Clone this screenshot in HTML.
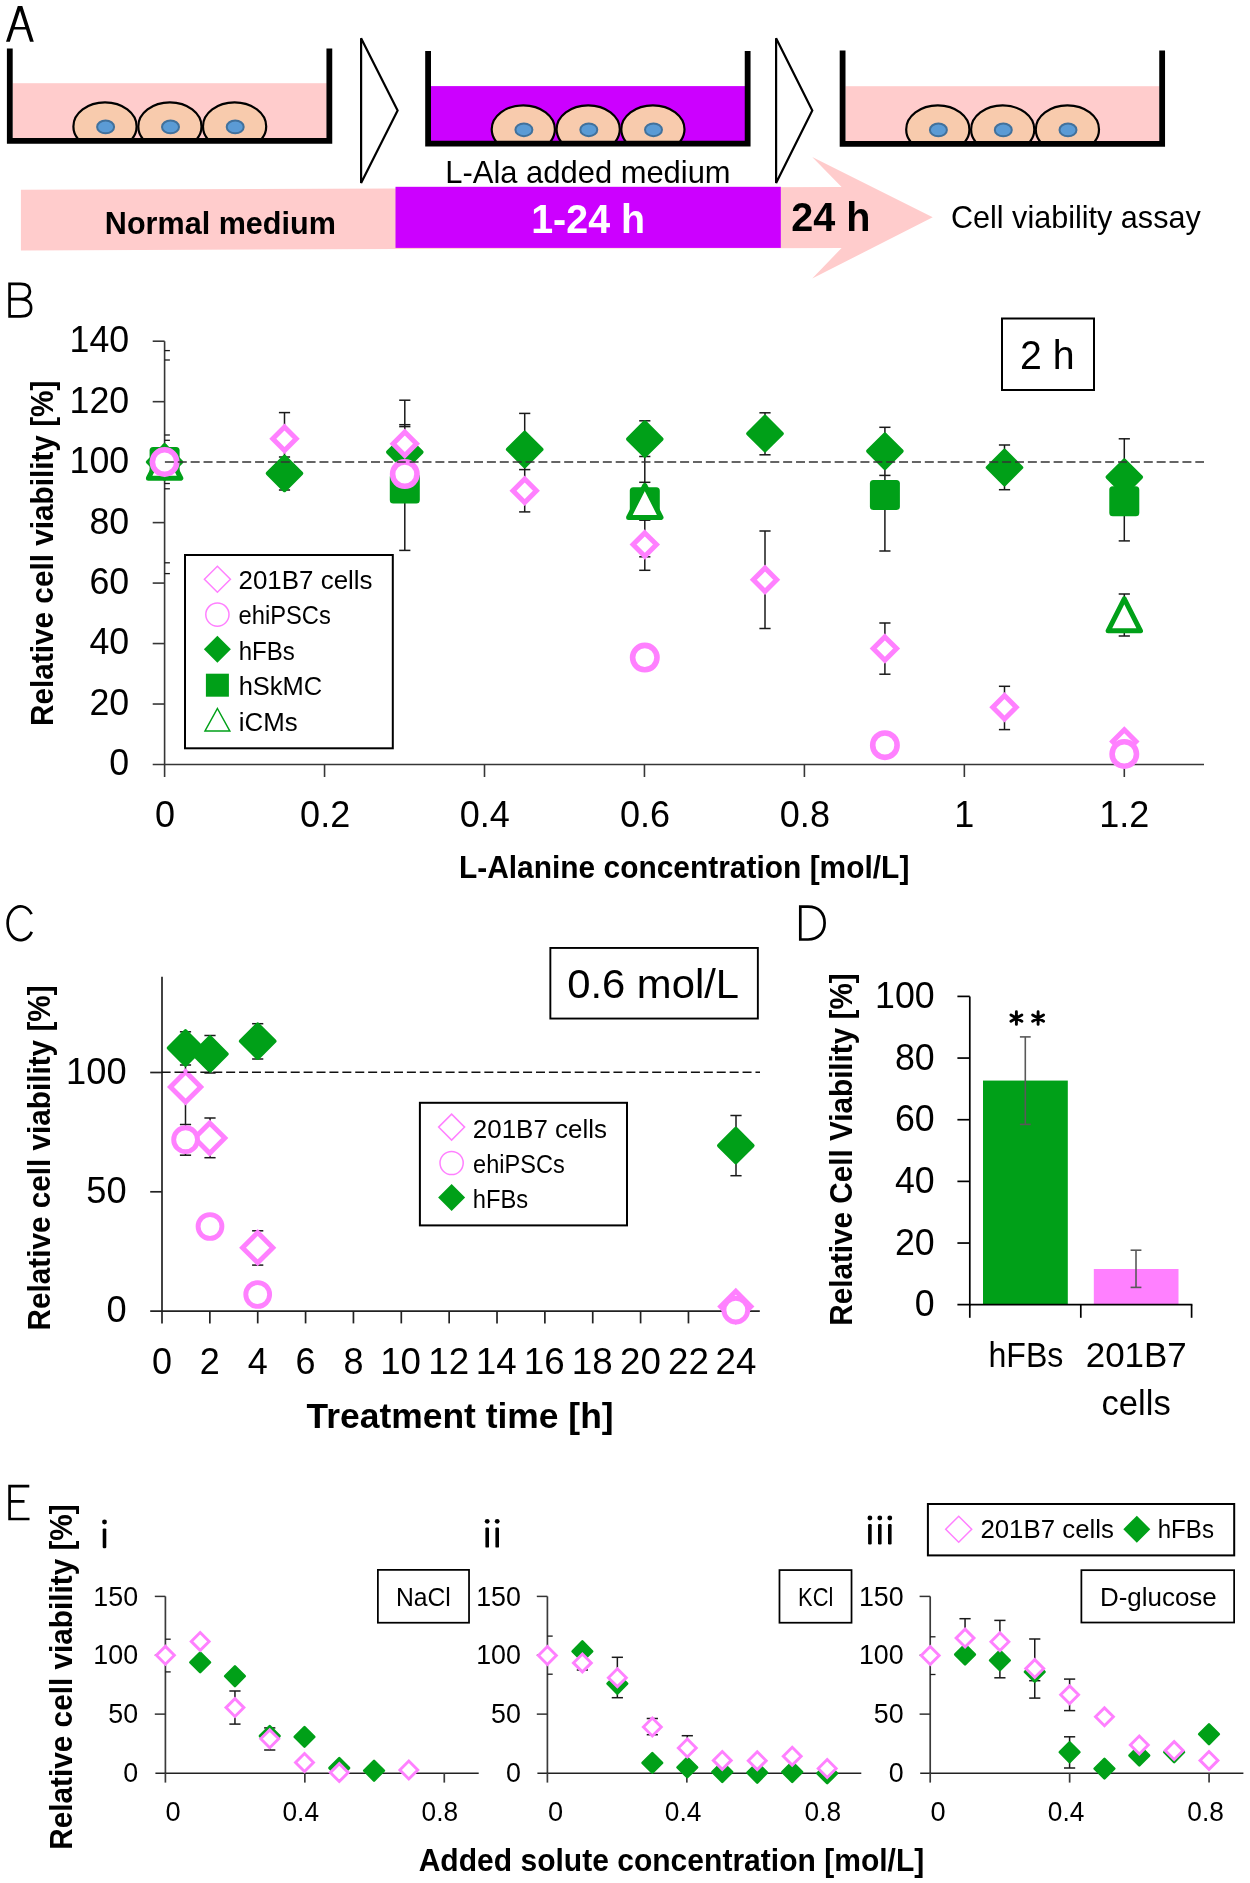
<!DOCTYPE html>
<html><head><meta charset="utf-8"><style>
html,body{margin:0;padding:0;background:#fff;width:1250px;height:1883px;overflow:hidden}
svg{display:block;will-change:transform}
text{font-family:"Liberation Sans", sans-serif}
</style></head><body>
<svg width="1250" height="1883" viewBox="0 0 1250 1883" font-family='"Liberation Sans", sans-serif'>
<rect width="1250" height="1883" fill="white"/>
<path d="M6 41.8 L17.8 6 L22.3 6 L33.8 41.8 L30 41.8 L26.05 29.5 L13.85 29.5 L9.8 41.8 Z M20.03 10.76 L25.21 26.9 L14.71 26.9 Z" fill="#000" fill-rule="evenodd"/>
<path d="M9.6 299.2 H20.3 C26.3 299.2 29.9 296 29.9 291.2 C29.9 286.6 26.8 283.8 20.5 283.8 H9.6 V316.4 H20.5 C27.2 316.4 31.1 313.5 31.1 308 C31.1 302.6 27.3 299.2 20.3 299.2" fill="none" stroke="#000" stroke-width="2.70" stroke-linejoin="miter"/>
<path d="M31.6 914.2 A13.0 16.9 0 1 0 31.8 931.9" fill="none" stroke="#000" stroke-width="2.70"/>
<path d="M800.3 906.6 H808 C819 906.6 824.6 913.5 824.6 923 C824.6 932.5 818.5 939.5 808 939.5 H800.3 Z" fill="none" stroke="#000" stroke-width="2.70"/>
<path d="M29.3 1486.2 H9.6 V1519 H29.5 M9.6 1501.4 H24.5" fill="none" stroke="#000" stroke-width="2.70"/>
<rect x="12.70" y="83.20" width="314.10" height="55.20" fill="#FFCCCC" stroke="none" stroke-width="0.00" />
<clipPath id="cp0_105"><rect x="65.00" y="90.00" width="80" height="48.10"/></clipPath>
<ellipse cx="105.00" cy="126.40" rx="31.6" ry="24.0" fill="#F8CBAD" stroke="#000" stroke-width="2.2" clip-path="url(#cp0_105)"/>
<ellipse cx="105.60" cy="126.90" rx="8.5" ry="6.4" fill="#5B9BD5" stroke="#41719C" stroke-width="2.0"/>
<clipPath id="cp0_169"><rect x="129.90" y="90.00" width="80" height="48.10"/></clipPath>
<ellipse cx="169.90" cy="126.40" rx="31.6" ry="24.0" fill="#F8CBAD" stroke="#000" stroke-width="2.2" clip-path="url(#cp0_169)"/>
<ellipse cx="170.50" cy="126.90" rx="8.5" ry="6.4" fill="#5B9BD5" stroke="#41719C" stroke-width="2.0"/>
<clipPath id="cp0_234"><rect x="194.60" y="90.00" width="80" height="48.10"/></clipPath>
<ellipse cx="234.60" cy="126.40" rx="31.6" ry="24.0" fill="#F8CBAD" stroke="#000" stroke-width="2.2" clip-path="url(#cp0_234)"/>
<ellipse cx="235.20" cy="126.90" rx="8.5" ry="6.4" fill="#5B9BD5" stroke="#41719C" stroke-width="2.0"/>
<path d="M9.80 48.40 V140.80 H329.35 V48.40" fill="none" stroke="#000" stroke-width="5.8" stroke-linejoin="miter"/>
<rect x="431.00" y="86.10" width="314.10" height="55.20" fill="#CC00FF" stroke="none" stroke-width="0.00" />
<clipPath id="cp418_105"><rect x="483.30" y="92.90" width="80" height="48.10"/></clipPath>
<ellipse cx="523.30" cy="129.30" rx="31.6" ry="24.0" fill="#F8CBAD" stroke="#000" stroke-width="2.2" clip-path="url(#cp418_105)"/>
<ellipse cx="523.90" cy="129.80" rx="8.5" ry="6.4" fill="#5B9BD5" stroke="#41719C" stroke-width="2.0"/>
<clipPath id="cp418_169"><rect x="548.20" y="92.90" width="80" height="48.10"/></clipPath>
<ellipse cx="588.20" cy="129.30" rx="31.6" ry="24.0" fill="#F8CBAD" stroke="#000" stroke-width="2.2" clip-path="url(#cp418_169)"/>
<ellipse cx="588.80" cy="129.80" rx="8.5" ry="6.4" fill="#5B9BD5" stroke="#41719C" stroke-width="2.0"/>
<clipPath id="cp418_234"><rect x="612.90" y="92.90" width="80" height="48.10"/></clipPath>
<ellipse cx="652.90" cy="129.30" rx="31.6" ry="24.0" fill="#F8CBAD" stroke="#000" stroke-width="2.2" clip-path="url(#cp418_234)"/>
<ellipse cx="653.50" cy="129.80" rx="8.5" ry="6.4" fill="#5B9BD5" stroke="#41719C" stroke-width="2.0"/>
<path d="M428.10 51.10 V143.70 H747.65 V51.10" fill="none" stroke="#000" stroke-width="5.8" stroke-linejoin="miter"/>
<rect x="845.50" y="86.20" width="314.10" height="55.20" fill="#FFCCCC" stroke="none" stroke-width="0.00" />
<clipPath id="cp832_105"><rect x="897.80" y="93.00" width="80" height="48.10"/></clipPath>
<ellipse cx="937.80" cy="129.40" rx="31.6" ry="24.0" fill="#F8CBAD" stroke="#000" stroke-width="2.2" clip-path="url(#cp832_105)"/>
<ellipse cx="938.40" cy="129.90" rx="8.5" ry="6.4" fill="#5B9BD5" stroke="#41719C" stroke-width="2.0"/>
<clipPath id="cp832_169"><rect x="962.70" y="93.00" width="80" height="48.10"/></clipPath>
<ellipse cx="1002.70" cy="129.40" rx="31.6" ry="24.0" fill="#F8CBAD" stroke="#000" stroke-width="2.2" clip-path="url(#cp832_169)"/>
<ellipse cx="1003.30" cy="129.90" rx="8.5" ry="6.4" fill="#5B9BD5" stroke="#41719C" stroke-width="2.0"/>
<clipPath id="cp832_234"><rect x="1027.40" y="93.00" width="80" height="48.10"/></clipPath>
<ellipse cx="1067.40" cy="129.40" rx="31.6" ry="24.0" fill="#F8CBAD" stroke="#000" stroke-width="2.2" clip-path="url(#cp832_234)"/>
<ellipse cx="1068.00" cy="129.90" rx="8.5" ry="6.4" fill="#5B9BD5" stroke="#41719C" stroke-width="2.0"/>
<path d="M842.60 50.40 V143.80 H1162.15 V50.40" fill="none" stroke="#000" stroke-width="5.8" stroke-linejoin="miter"/>
<path d="M361.1 38.3 L397.6 110.6 L361.1 183 Z" fill="white" stroke="#000" stroke-width="2.2" stroke-linejoin="miter"/>
<path d="M776.1 38.3 L812.3 110.6 L776.1 183 Z" fill="white" stroke="#000" stroke-width="2.2" stroke-linejoin="miter"/>
<path d="M20.9 189.7 L395.5 188.4 L841.6 187.1 L812.2 157 L932.7 217.3 L812.2 278.5 L841.6 248 L395.5 248.9 L20.9 250.4 Z" fill="#FFCCCC"/>
<rect x="395.50" y="186.80" width="385.30" height="61.10" fill="#CC00FF" stroke="none" stroke-width="0.00" />
<text x="445.36" y="183.00" font-size="31.25" textLength="285.27" lengthAdjust="spacingAndGlyphs" >L-Ala added medium</text>
<text x="104.85" y="233.50" font-size="31.40" font-weight="bold" textLength="231.04" lengthAdjust="spacingAndGlyphs" >Normal medium</text>
<text x="531.22" y="232.90" font-size="41.28" font-weight="bold" fill="white" textLength="113.82" lengthAdjust="spacingAndGlyphs" >1-24 h</text>
<text x="791.23" y="231.00" font-size="40.70" font-weight="bold" textLength="79.23" lengthAdjust="spacingAndGlyphs" >24 h</text>
<text x="950.95" y="228.40" font-size="32.27" textLength="249.81" lengthAdjust="spacingAndGlyphs" >Cell viability assay</text>
<line x1="164.60" y1="341.20" x2="164.60" y2="765.10" stroke="#363636" stroke-width="1.60" />
<line x1="152.70" y1="764.50" x2="1204.00" y2="764.50" stroke="#363636" stroke-width="1.60" />
<text x="109.32" y="775.40" font-size="36.00" textLength="19.87" lengthAdjust="spacingAndGlyphs" >0</text>
<line x1="152.70" y1="704.03" x2="164.60" y2="704.03" stroke="#363636" stroke-width="1.60" />
<text x="89.45" y="714.93" font-size="36.00" textLength="39.75" lengthAdjust="spacingAndGlyphs" >20</text>
<line x1="152.70" y1="643.56" x2="164.60" y2="643.56" stroke="#363636" stroke-width="1.60" />
<text x="89.45" y="654.46" font-size="36.00" textLength="39.75" lengthAdjust="spacingAndGlyphs" >40</text>
<line x1="152.70" y1="583.08" x2="164.60" y2="583.08" stroke="#363636" stroke-width="1.60" />
<text x="89.45" y="593.98" font-size="36.00" textLength="39.75" lengthAdjust="spacingAndGlyphs" >60</text>
<line x1="152.70" y1="522.61" x2="164.60" y2="522.61" stroke="#363636" stroke-width="1.60" />
<text x="89.45" y="533.51" font-size="36.00" textLength="39.75" lengthAdjust="spacingAndGlyphs" >80</text>
<line x1="152.70" y1="462.14" x2="164.60" y2="462.14" stroke="#363636" stroke-width="1.60" />
<text x="69.58" y="473.04" font-size="36.00" textLength="59.62" lengthAdjust="spacingAndGlyphs" >100</text>
<line x1="152.70" y1="401.67" x2="164.60" y2="401.67" stroke="#363636" stroke-width="1.60" />
<text x="69.58" y="412.57" font-size="36.00" textLength="59.62" lengthAdjust="spacingAndGlyphs" >120</text>
<line x1="152.70" y1="341.20" x2="164.60" y2="341.20" stroke="#363636" stroke-width="1.60" />
<text x="69.58" y="352.10" font-size="36.00" textLength="59.62" lengthAdjust="spacingAndGlyphs" >140</text>
<line x1="164.60" y1="764.50" x2="164.60" y2="777.00" stroke="#363636" stroke-width="1.60" />
<text x="154.99" y="827.00" font-size="36.00" textLength="20.03" lengthAdjust="spacingAndGlyphs" >0</text>
<line x1="324.55" y1="764.50" x2="324.55" y2="777.00" stroke="#363636" stroke-width="1.60" />
<text x="300.12" y="827.00" font-size="36.00" textLength="50.06" lengthAdjust="spacingAndGlyphs" >0.2</text>
<line x1="484.50" y1="764.50" x2="484.50" y2="777.00" stroke="#363636" stroke-width="1.60" />
<text x="459.69" y="827.00" font-size="36.00" textLength="50.06" lengthAdjust="spacingAndGlyphs" >0.4</text>
<line x1="644.45" y1="764.50" x2="644.45" y2="777.00" stroke="#363636" stroke-width="1.60" />
<text x="619.91" y="827.00" font-size="36.00" textLength="50.06" lengthAdjust="spacingAndGlyphs" >0.6</text>
<line x1="804.40" y1="764.50" x2="804.40" y2="777.00" stroke="#363636" stroke-width="1.60" />
<text x="779.85" y="827.00" font-size="36.00" textLength="50.06" lengthAdjust="spacingAndGlyphs" >0.8</text>
<line x1="964.35" y1="764.50" x2="964.35" y2="777.00" stroke="#363636" stroke-width="1.60" />
<text x="954.24" y="827.00" font-size="36.00" textLength="20.03" lengthAdjust="spacingAndGlyphs" >1</text>
<line x1="1124.30" y1="764.50" x2="1124.30" y2="777.00" stroke="#363636" stroke-width="1.60" />
<text x="1099.20" y="827.00" font-size="36.00" textLength="50.06" lengthAdjust="spacingAndGlyphs" >1.2</text>
<line x1="164.60" y1="350.60" x2="169.90" y2="350.60" stroke="#1a1a1a" stroke-width="1.30" />
<line x1="164.60" y1="360.00" x2="169.90" y2="360.00" stroke="#1a1a1a" stroke-width="1.30" />
<line x1="164.60" y1="435.00" x2="169.90" y2="435.00" stroke="#1a1a1a" stroke-width="1.30" />
<line x1="164.60" y1="440.30" x2="169.90" y2="440.30" stroke="#1a1a1a" stroke-width="1.30" />
<line x1="164.60" y1="483.50" x2="169.90" y2="483.50" stroke="#1a1a1a" stroke-width="1.30" />
<line x1="164.60" y1="488.80" x2="169.90" y2="488.80" stroke="#1a1a1a" stroke-width="1.30" />
<line x1="164.60" y1="562.80" x2="169.90" y2="562.80" stroke="#1a1a1a" stroke-width="1.30" />
<line x1="164.60" y1="573.60" x2="169.90" y2="573.60" stroke="#1a1a1a" stroke-width="1.30" />
<line x1="284.50" y1="412.60" x2="284.50" y2="490.00" stroke="#1a1a1a" stroke-width="1.50" />
<line x1="278.90" y1="412.60" x2="290.10" y2="412.60" stroke="#1a1a1a" stroke-width="1.50" />
<line x1="278.90" y1="457.00" x2="290.10" y2="457.00" stroke="#1a1a1a" stroke-width="1.50" />
<line x1="278.90" y1="490.00" x2="290.10" y2="490.00" stroke="#1a1a1a" stroke-width="1.50" />
<line x1="404.80" y1="400.20" x2="404.80" y2="550.40" stroke="#1a1a1a" stroke-width="1.50" />
<line x1="399.20" y1="400.20" x2="410.40" y2="400.20" stroke="#1a1a1a" stroke-width="1.50" />
<line x1="399.20" y1="424.70" x2="410.40" y2="424.70" stroke="#1a1a1a" stroke-width="1.50" />
<line x1="399.20" y1="426.60" x2="410.40" y2="426.60" stroke="#1a1a1a" stroke-width="1.50" />
<line x1="399.20" y1="550.40" x2="410.40" y2="550.40" stroke="#1a1a1a" stroke-width="1.50" />
<line x1="524.70" y1="413.40" x2="524.70" y2="511.90" stroke="#1a1a1a" stroke-width="1.50" />
<line x1="519.10" y1="413.40" x2="530.30" y2="413.40" stroke="#1a1a1a" stroke-width="1.50" />
<line x1="519.10" y1="469.60" x2="530.30" y2="469.60" stroke="#1a1a1a" stroke-width="1.50" />
<line x1="519.10" y1="511.90" x2="530.30" y2="511.90" stroke="#1a1a1a" stroke-width="1.50" />
<line x1="644.80" y1="420.80" x2="644.80" y2="570.30" stroke="#1a1a1a" stroke-width="1.50" />
<line x1="639.20" y1="420.80" x2="650.40" y2="420.80" stroke="#1a1a1a" stroke-width="1.50" />
<line x1="639.20" y1="456.50" x2="650.40" y2="456.50" stroke="#1a1a1a" stroke-width="1.50" />
<line x1="639.20" y1="482.30" x2="650.40" y2="482.30" stroke="#1a1a1a" stroke-width="1.50" />
<line x1="639.20" y1="520.20" x2="650.40" y2="520.20" stroke="#1a1a1a" stroke-width="1.50" />
<line x1="639.20" y1="556.80" x2="650.40" y2="556.80" stroke="#1a1a1a" stroke-width="1.50" />
<line x1="639.20" y1="570.30" x2="650.40" y2="570.30" stroke="#1a1a1a" stroke-width="1.50" />
<line x1="765.00" y1="412.80" x2="765.00" y2="454.80" stroke="#1a1a1a" stroke-width="1.50" />
<line x1="759.40" y1="412.80" x2="770.60" y2="412.80" stroke="#1a1a1a" stroke-width="1.50" />
<line x1="759.40" y1="454.80" x2="770.60" y2="454.80" stroke="#1a1a1a" stroke-width="1.50" />
<line x1="765.00" y1="531.00" x2="765.00" y2="628.50" stroke="#1a1a1a" stroke-width="1.50" />
<line x1="759.40" y1="531.00" x2="770.60" y2="531.00" stroke="#1a1a1a" stroke-width="1.50" />
<line x1="759.40" y1="628.50" x2="770.60" y2="628.50" stroke="#1a1a1a" stroke-width="1.50" />
<line x1="884.90" y1="427.30" x2="884.90" y2="551.00" stroke="#1a1a1a" stroke-width="1.50" />
<line x1="879.30" y1="427.30" x2="890.50" y2="427.30" stroke="#1a1a1a" stroke-width="1.50" />
<line x1="879.30" y1="475.40" x2="890.50" y2="475.40" stroke="#1a1a1a" stroke-width="1.50" />
<line x1="879.30" y1="551.00" x2="890.50" y2="551.00" stroke="#1a1a1a" stroke-width="1.50" />
<line x1="884.90" y1="623.00" x2="884.90" y2="674.20" stroke="#1a1a1a" stroke-width="1.50" />
<line x1="879.30" y1="623.00" x2="890.50" y2="623.00" stroke="#1a1a1a" stroke-width="1.50" />
<line x1="879.30" y1="674.20" x2="890.50" y2="674.20" stroke="#1a1a1a" stroke-width="1.50" />
<line x1="1004.50" y1="445.00" x2="1004.50" y2="489.70" stroke="#1a1a1a" stroke-width="1.50" />
<line x1="998.90" y1="445.00" x2="1010.10" y2="445.00" stroke="#1a1a1a" stroke-width="1.50" />
<line x1="998.90" y1="489.70" x2="1010.10" y2="489.70" stroke="#1a1a1a" stroke-width="1.50" />
<line x1="1004.50" y1="686.30" x2="1004.50" y2="729.60" stroke="#1a1a1a" stroke-width="1.50" />
<line x1="998.90" y1="686.30" x2="1010.10" y2="686.30" stroke="#1a1a1a" stroke-width="1.50" />
<line x1="998.90" y1="729.60" x2="1010.10" y2="729.60" stroke="#1a1a1a" stroke-width="1.50" />
<line x1="1124.30" y1="438.80" x2="1124.30" y2="540.90" stroke="#1a1a1a" stroke-width="1.50" />
<line x1="1118.70" y1="438.80" x2="1129.90" y2="438.80" stroke="#1a1a1a" stroke-width="1.50" />
<line x1="1118.70" y1="540.90" x2="1129.90" y2="540.90" stroke="#1a1a1a" stroke-width="1.50" />
<line x1="1124.30" y1="594.00" x2="1124.30" y2="636.00" stroke="#1a1a1a" stroke-width="1.50" />
<line x1="1118.70" y1="594.00" x2="1129.90" y2="594.00" stroke="#1a1a1a" stroke-width="1.50" />
<line x1="1118.70" y1="636.00" x2="1129.90" y2="636.00" stroke="#1a1a1a" stroke-width="1.50" />
<path d="M164.60 445.10L181.50 462.00L164.60 478.90L147.70 462.00Z" fill="#00A018" stroke="#00A018" stroke-width="3.80" stroke-linejoin="round"/>
<path d="M284.50 456.50L301.40 473.40L284.50 490.30L267.60 473.40Z" fill="#00A018" stroke="#00A018" stroke-width="3.80" stroke-linejoin="round"/>
<path d="M404.80 435.30L421.70 452.20L404.80 469.10L387.90 452.20Z" fill="#00A018" stroke="#00A018" stroke-width="3.80" stroke-linejoin="round"/>
<path d="M524.70 432.50L541.60 449.40L524.70 466.30L507.80 449.40Z" fill="#00A018" stroke="#00A018" stroke-width="3.80" stroke-linejoin="round"/>
<path d="M644.80 422.20L661.70 439.10L644.80 456.00L627.90 439.10Z" fill="#00A018" stroke="#00A018" stroke-width="3.80" stroke-linejoin="round"/>
<path d="M765.00 416.70L781.90 433.60L765.00 450.50L748.10 433.60Z" fill="#00A018" stroke="#00A018" stroke-width="3.80" stroke-linejoin="round"/>
<path d="M884.90 434.30L901.80 451.20L884.90 468.10L868.00 451.20Z" fill="#00A018" stroke="#00A018" stroke-width="3.80" stroke-linejoin="round"/>
<path d="M1004.50 450.60L1021.40 467.50L1004.50 484.40L987.60 467.50Z" fill="#00A018" stroke="#00A018" stroke-width="3.80" stroke-linejoin="round"/>
<path d="M1124.30 460.30L1141.20 477.20L1124.30 494.10L1107.40 477.20Z" fill="#00A018" stroke="#00A018" stroke-width="3.80" stroke-linejoin="round"/>
<rect x="149.60" y="447.00" width="30.00" height="30.00" rx="3.5" fill="#00A018"/>
<rect x="389.80" y="473.60" width="30.00" height="30.00" rx="3.5" fill="#00A018"/>
<rect x="629.80" y="487.30" width="30.00" height="30.00" rx="3.5" fill="#00A018"/>
<rect x="869.90" y="479.90" width="30.00" height="30.00" rx="3.5" fill="#00A018"/>
<rect x="1109.30" y="486.20" width="30.00" height="30.00" rx="3.5" fill="#00A018"/>
<path d="M164.60 446.20L180.80 478.20L148.40 478.20Z" fill="white" stroke="#00A018" stroke-width="5.00" stroke-linejoin="round"/>
<path d="M644.80 485.50L661.00 517.50L628.60 517.50Z" fill="white" stroke="#00A018" stroke-width="5.00" stroke-linejoin="round"/>
<path d="M1124.30 598.80L1140.50 630.80L1108.10 630.80Z" fill="white" stroke="#00A018" stroke-width="5.00" stroke-linejoin="round"/>
<path d="M164.60 450.30L176.30 462.00L164.60 473.70L152.90 462.00Z" fill="white" stroke="#FF80FF" stroke-width="5.00" stroke-linejoin="miter"/>
<path d="M284.50 427.10L296.20 438.80L284.50 450.50L272.80 438.80Z" fill="white" stroke="#FF80FF" stroke-width="5.00" stroke-linejoin="miter"/>
<path d="M404.80 432.10L416.50 443.80L404.80 455.50L393.10 443.80Z" fill="white" stroke="#FF80FF" stroke-width="5.00" stroke-linejoin="miter"/>
<path d="M524.70 479.00L536.40 490.70L524.70 502.40L513.00 490.70Z" fill="white" stroke="#FF80FF" stroke-width="5.00" stroke-linejoin="miter"/>
<path d="M644.80 532.90L656.50 544.60L644.80 556.30L633.10 544.60Z" fill="white" stroke="#FF80FF" stroke-width="5.00" stroke-linejoin="miter"/>
<path d="M765.00 568.10L776.70 579.80L765.00 591.50L753.30 579.80Z" fill="white" stroke="#FF80FF" stroke-width="5.00" stroke-linejoin="miter"/>
<path d="M884.90 636.90L896.60 648.60L884.90 660.30L873.20 648.60Z" fill="white" stroke="#FF80FF" stroke-width="5.00" stroke-linejoin="miter"/>
<path d="M1004.50 695.50L1016.20 707.20L1004.50 718.90L992.80 707.20Z" fill="white" stroke="#FF80FF" stroke-width="5.00" stroke-linejoin="miter"/>
<path d="M1124.30 729.80L1136.00 741.50L1124.30 753.20L1112.60 741.50Z" fill="white" stroke="#FF80FF" stroke-width="5.00" stroke-linejoin="miter"/>
<circle cx="164.60" cy="462.00" r="12.20" fill="white" stroke="#FF80FF" stroke-width="5.60"/>
<circle cx="404.80" cy="474.10" r="12.20" fill="white" stroke="#FF80FF" stroke-width="5.60"/>
<circle cx="644.80" cy="657.60" r="12.20" fill="white" stroke="#FF80FF" stroke-width="5.60"/>
<circle cx="884.90" cy="745.20" r="12.20" fill="white" stroke="#FF80FF" stroke-width="5.60"/>
<circle cx="1124.30" cy="754.00" r="12.20" fill="white" stroke="#FF80FF" stroke-width="5.60"/>
<line x1="164.9" y1="462" x2="1204" y2="462" stroke="#333" stroke-width="1.5" stroke-dasharray="9.0 3.88"/>
<rect x="185.00" y="555.00" width="207.80" height="193.30" fill="white" stroke="#000" stroke-width="2.00" />
<path d="M217.4 566.3L230.4 579.3L217.4 592.3L204.4 579.3Z" fill="white" stroke="#FF80FF" stroke-width="1.5"/>
<circle cx="217.4" cy="614.6" r="11.6" fill="white" stroke="#FF80FF" stroke-width="1.5"/>
<path d="M217.4 635.7L230.9 649.2L217.4 662.7L203.9 649.2Z" fill="#00A018"/>
<rect x="205.90" y="673.70" width="23.00" height="23.00" fill="#00A018" stroke="none" stroke-width="0.00" />
<path d="M217.4 708.5L229.8 731.0L205.0 731.0Z" fill="white" stroke="#00A018" stroke-width="1.5"/>
<text x="238.50" y="589.30" font-size="26.02" textLength="134.04" lengthAdjust="spacingAndGlyphs" >201B7 cells</text>
<text x="238.59" y="624.40" font-size="26.02" textLength="92.26" lengthAdjust="spacingAndGlyphs" >ehiPSCs</text>
<text x="238.73" y="660.20" font-size="26.02" textLength="56.14" lengthAdjust="spacingAndGlyphs" >hFBs</text>
<text x="238.63" y="695.20" font-size="26.02" textLength="83.54" lengthAdjust="spacingAndGlyphs" >hSkMC</text>
<text x="238.87" y="731.00" font-size="26.02" textLength="58.86" lengthAdjust="spacingAndGlyphs" >iCMs</text>
<rect x="1002.00" y="318.50" width="92.00" height="71.50" fill="white" stroke="#000" stroke-width="2.00" />
<text x="1020.02" y="368.70" font-size="40.41" textLength="54.63" lengthAdjust="spacingAndGlyphs" >2 h</text>
<text x="458.90" y="877.70" font-size="31.25" font-weight="bold" textLength="450.48" lengthAdjust="spacingAndGlyphs" >L-Alanine concentration [mol/L]</text>
<text transform="translate(52.90,725.89) rotate(-90)" font-size="31.20" font-weight="bold" textLength="345.26" lengthAdjust="spacingAndGlyphs" >Relative cell viability [%]</text>
<line x1="162.00" y1="976.70" x2="162.00" y2="1311.90" stroke="#222" stroke-width="1.70" />
<line x1="150.20" y1="1311.10" x2="759.80" y2="1311.10" stroke="#222" stroke-width="1.70" />
<text x="106.46" y="1322.10" font-size="36.00" textLength="20.16" lengthAdjust="spacingAndGlyphs" >0</text>
<line x1="150.20" y1="1191.80" x2="162.00" y2="1191.80" stroke="#222" stroke-width="1.70" />
<text x="86.30" y="1202.80" font-size="36.00" textLength="40.32" lengthAdjust="spacingAndGlyphs" >50</text>
<line x1="150.20" y1="1072.50" x2="162.00" y2="1072.50" stroke="#222" stroke-width="1.70" />
<text x="66.14" y="1083.50" font-size="36.00" textLength="60.48" lengthAdjust="spacingAndGlyphs" >100</text>
<line x1="162.00" y1="1311.10" x2="162.00" y2="1323.40" stroke="#222" stroke-width="1.70" />
<text x="151.99" y="1373.60" font-size="36.00" textLength="20.02" lengthAdjust="spacingAndGlyphs" >0</text>
<line x1="209.86" y1="1311.10" x2="209.86" y2="1323.40" stroke="#222" stroke-width="1.70" />
<text x="199.85" y="1373.60" font-size="36.00" textLength="20.02" lengthAdjust="spacingAndGlyphs" >2</text>
<line x1="257.72" y1="1311.10" x2="257.72" y2="1323.40" stroke="#222" stroke-width="1.70" />
<text x="247.82" y="1373.60" font-size="36.00" textLength="20.02" lengthAdjust="spacingAndGlyphs" >4</text>
<line x1="305.58" y1="1311.10" x2="305.58" y2="1323.40" stroke="#222" stroke-width="1.70" />
<text x="295.45" y="1373.60" font-size="36.00" textLength="20.02" lengthAdjust="spacingAndGlyphs" >6</text>
<line x1="353.44" y1="1311.10" x2="353.44" y2="1323.40" stroke="#222" stroke-width="1.70" />
<text x="343.43" y="1373.60" font-size="36.00" textLength="20.02" lengthAdjust="spacingAndGlyphs" >8</text>
<line x1="401.30" y1="1311.10" x2="401.30" y2="1323.40" stroke="#222" stroke-width="1.70" />
<text x="380.20" y="1373.60" font-size="36.00" textLength="40.84" lengthAdjust="spacingAndGlyphs" >10</text>
<line x1="449.16" y1="1311.10" x2="449.16" y2="1323.40" stroke="#222" stroke-width="1.70" />
<text x="428.26" y="1373.60" font-size="36.00" textLength="40.84" lengthAdjust="spacingAndGlyphs" >12</text>
<line x1="497.02" y1="1311.10" x2="497.02" y2="1323.40" stroke="#222" stroke-width="1.70" />
<text x="475.74" y="1373.60" font-size="36.00" textLength="40.84" lengthAdjust="spacingAndGlyphs" >14</text>
<line x1="544.88" y1="1311.10" x2="544.88" y2="1323.40" stroke="#222" stroke-width="1.70" />
<text x="523.87" y="1373.60" font-size="36.00" textLength="40.84" lengthAdjust="spacingAndGlyphs" >16</text>
<line x1="592.74" y1="1311.10" x2="592.74" y2="1323.40" stroke="#222" stroke-width="1.70" />
<text x="571.72" y="1373.60" font-size="36.00" textLength="40.84" lengthAdjust="spacingAndGlyphs" >18</text>
<line x1="640.60" y1="1311.10" x2="640.60" y2="1323.40" stroke="#222" stroke-width="1.70" />
<text x="619.97" y="1373.60" font-size="36.00" textLength="40.84" lengthAdjust="spacingAndGlyphs" >20</text>
<line x1="688.46" y1="1311.10" x2="688.46" y2="1323.40" stroke="#222" stroke-width="1.70" />
<text x="668.04" y="1373.60" font-size="36.00" textLength="40.84" lengthAdjust="spacingAndGlyphs" >22</text>
<line x1="736.32" y1="1311.10" x2="736.32" y2="1323.40" stroke="#222" stroke-width="1.70" />
<text x="715.51" y="1373.60" font-size="36.00" textLength="40.84" lengthAdjust="spacingAndGlyphs" >24</text>
<line x1="185.50" y1="1031.80" x2="185.50" y2="1155.20" stroke="#1a1a1a" stroke-width="1.50" />
<line x1="179.90" y1="1031.80" x2="191.10" y2="1031.80" stroke="#1a1a1a" stroke-width="1.50" />
<line x1="179.90" y1="1065.00" x2="191.10" y2="1065.00" stroke="#1a1a1a" stroke-width="1.50" />
<line x1="179.90" y1="1124.50" x2="191.10" y2="1124.50" stroke="#1a1a1a" stroke-width="1.50" />
<line x1="179.90" y1="1155.20" x2="191.10" y2="1155.20" stroke="#1a1a1a" stroke-width="1.50" />
<line x1="210.00" y1="1035.50" x2="210.00" y2="1073.00" stroke="#1a1a1a" stroke-width="1.50" />
<line x1="204.40" y1="1035.50" x2="215.60" y2="1035.50" stroke="#1a1a1a" stroke-width="1.50" />
<line x1="204.40" y1="1073.00" x2="215.60" y2="1073.00" stroke="#1a1a1a" stroke-width="1.50" />
<line x1="210.00" y1="1118.00" x2="210.00" y2="1157.70" stroke="#1a1a1a" stroke-width="1.50" />
<line x1="204.40" y1="1118.00" x2="215.60" y2="1118.00" stroke="#1a1a1a" stroke-width="1.50" />
<line x1="204.40" y1="1157.70" x2="215.60" y2="1157.70" stroke="#1a1a1a" stroke-width="1.50" />
<line x1="257.70" y1="1023.70" x2="257.70" y2="1059.00" stroke="#1a1a1a" stroke-width="1.50" />
<line x1="252.10" y1="1023.70" x2="263.30" y2="1023.70" stroke="#1a1a1a" stroke-width="1.50" />
<line x1="252.10" y1="1059.00" x2="263.30" y2="1059.00" stroke="#1a1a1a" stroke-width="1.50" />
<line x1="257.70" y1="1230.80" x2="257.70" y2="1265.10" stroke="#1a1a1a" stroke-width="1.50" />
<line x1="252.10" y1="1230.80" x2="263.30" y2="1230.80" stroke="#1a1a1a" stroke-width="1.50" />
<line x1="252.10" y1="1265.10" x2="263.30" y2="1265.10" stroke="#1a1a1a" stroke-width="1.50" />
<line x1="736.00" y1="1115.50" x2="736.00" y2="1175.70" stroke="#1a1a1a" stroke-width="1.50" />
<line x1="730.40" y1="1115.50" x2="741.60" y2="1115.50" stroke="#1a1a1a" stroke-width="1.50" />
<line x1="730.40" y1="1175.70" x2="741.60" y2="1175.70" stroke="#1a1a1a" stroke-width="1.50" />
<path d="M185.50 1031.10L202.40 1048.00L185.50 1064.90L168.60 1048.00Z" fill="#00A018" stroke="#00A018" stroke-width="3.80" stroke-linejoin="round"/>
<path d="M210.00 1037.10L226.90 1054.00L210.00 1070.90L193.10 1054.00Z" fill="#00A018" stroke="#00A018" stroke-width="3.80" stroke-linejoin="round"/>
<path d="M257.70 1024.30L274.60 1041.20L257.70 1058.10L240.80 1041.20Z" fill="#00A018" stroke="#00A018" stroke-width="3.80" stroke-linejoin="round"/>
<path d="M735.80 1128.70L752.70 1145.60L735.80 1162.50L718.90 1145.60Z" fill="#00A018" stroke="#00A018" stroke-width="3.80" stroke-linejoin="round"/>
<path d="M185.60 1071.75L200.75 1086.90L185.60 1102.05L170.45 1086.90Z" fill="white" stroke="#FF80FF" stroke-width="4.90" stroke-linejoin="miter"/>
<path d="M209.70 1122.95L224.85 1138.10L209.70 1153.25L194.55 1138.10Z" fill="white" stroke="#FF80FF" stroke-width="4.90" stroke-linejoin="miter"/>
<path d="M257.70 1232.55L272.85 1247.70L257.70 1262.85L242.55 1247.70Z" fill="white" stroke="#FF80FF" stroke-width="4.90" stroke-linejoin="miter"/>
<path d="M735.80 1291.25L750.95 1306.40L735.80 1321.55L720.65 1306.40Z" fill="white" stroke="#FF80FF" stroke-width="4.90" stroke-linejoin="miter"/>
<circle cx="185.60" cy="1139.70" r="11.90" fill="white" stroke="#FF80FF" stroke-width="4.90"/>
<circle cx="210.00" cy="1226.50" r="11.90" fill="white" stroke="#FF80FF" stroke-width="4.90"/>
<circle cx="257.70" cy="1294.50" r="11.90" fill="white" stroke="#FF80FF" stroke-width="4.90"/>
<circle cx="735.80" cy="1310.10" r="11.90" fill="white" stroke="#FF80FF" stroke-width="4.90"/>
<line x1="161.6" y1="1072.2" x2="760" y2="1072.2" stroke="#111" stroke-width="1.5" stroke-dasharray="9.0 3.91"/>
<rect x="550.35" y="947.95" width="207.50" height="70.60" fill="white" stroke="#000" stroke-width="1.90" />
<text x="567.17" y="997.50" font-size="40.41" textLength="171.92" lengthAdjust="spacingAndGlyphs" >0.6 mol/L</text>
<rect x="419.90" y="1102.80" width="207.10" height="122.60" fill="white" stroke="#000" stroke-width="2.00" />
<path d="M451.6 1114.1L464.6 1127.1L451.6 1140.1L438.6 1127.1Z" fill="white" stroke="#FF80FF" stroke-width="1.5"/>
<circle cx="451.6" cy="1163" r="11.6" fill="white" stroke="#FF80FF" stroke-width="1.5"/>
<path d="M451.6 1184.0L465.1 1197.5L451.6 1211.0L438.1 1197.5Z" fill="#00A018"/>
<text x="472.80" y="1138.00" font-size="26.31" textLength="134.14" lengthAdjust="spacingAndGlyphs" >201B7 cells</text>
<text x="473.10" y="1172.80" font-size="26.31" textLength="91.55" lengthAdjust="spacingAndGlyphs" >ehiPSCs</text>
<text x="472.75" y="1208.40" font-size="26.31" textLength="55.40" lengthAdjust="spacingAndGlyphs" >hFBs</text>
<text x="306.60" y="1428.30" font-size="35.47" font-weight="bold" textLength="306.97" lengthAdjust="spacingAndGlyphs" >Treatment time [h]</text>
<text transform="translate(50.00,1330.39) rotate(-90)" font-size="31.20" font-weight="bold" textLength="344.95" lengthAdjust="spacingAndGlyphs" >Relative cell viability [%]</text>
<rect x="983.00" y="1080.57" width="84.80" height="224.13" fill="#00A018" stroke="none" stroke-width="0.00" />
<rect x="1093.80" y="1269.00" width="84.70" height="35.70" fill="#FF80FF" stroke="none" stroke-width="0.00" />
<line x1="969.80" y1="996.40" x2="969.80" y2="1305.50" stroke="#000" stroke-width="1.70" />
<line x1="957.40" y1="1304.70" x2="1192.40" y2="1304.70" stroke="#000" stroke-width="1.70" />
<text x="914.82" y="1316.20" font-size="36.00" textLength="19.87" lengthAdjust="spacingAndGlyphs" >0</text>
<line x1="957.40" y1="1243.04" x2="969.80" y2="1243.04" stroke="#000" stroke-width="1.70" />
<text x="894.95" y="1254.54" font-size="36.00" textLength="39.75" lengthAdjust="spacingAndGlyphs" >20</text>
<line x1="957.40" y1="1181.38" x2="969.80" y2="1181.38" stroke="#000" stroke-width="1.70" />
<text x="894.95" y="1192.88" font-size="36.00" textLength="39.75" lengthAdjust="spacingAndGlyphs" >40</text>
<line x1="957.40" y1="1119.72" x2="969.80" y2="1119.72" stroke="#000" stroke-width="1.70" />
<text x="894.95" y="1131.22" font-size="36.00" textLength="39.75" lengthAdjust="spacingAndGlyphs" >60</text>
<line x1="957.40" y1="1058.06" x2="969.80" y2="1058.06" stroke="#000" stroke-width="1.70" />
<text x="894.95" y="1069.56" font-size="36.00" textLength="39.75" lengthAdjust="spacingAndGlyphs" >80</text>
<line x1="957.40" y1="996.40" x2="969.80" y2="996.40" stroke="#000" stroke-width="1.70" />
<text x="875.08" y="1007.90" font-size="36.00" textLength="59.62" lengthAdjust="spacingAndGlyphs" >100</text>
<line x1="969.80" y1="1304.70" x2="969.80" y2="1317.80" stroke="#000" stroke-width="1.70" />
<line x1="1080.80" y1="1304.70" x2="1080.80" y2="1317.80" stroke="#000" stroke-width="1.70" />
<line x1="1191.60" y1="1304.70" x2="1191.60" y2="1317.80" stroke="#000" stroke-width="1.70" />
<line x1="1025.30" y1="1036.90" x2="1025.30" y2="1124.40" stroke="#595959" stroke-width="1.60" />
<line x1="1019.90" y1="1036.90" x2="1030.70" y2="1036.90" stroke="#595959" stroke-width="1.60" />
<line x1="1019.90" y1="1124.40" x2="1030.70" y2="1124.40" stroke="#595959" stroke-width="1.60" />
<line x1="1136.00" y1="1250.20" x2="1136.00" y2="1287.40" stroke="#595959" stroke-width="1.60" />
<line x1="1130.60" y1="1250.20" x2="1141.40" y2="1250.20" stroke="#595959" stroke-width="1.60" />
<line x1="1130.60" y1="1287.40" x2="1141.40" y2="1287.40" stroke="#595959" stroke-width="1.60" />
<path d="M1016.40 1011.80L1016.40 1024.40M1010.94 1014.95L1021.86 1021.25M1010.94 1021.25L1021.86 1014.95" stroke="#000" stroke-width="2.9" stroke-linecap="round"/>
<path d="M1038.10 1011.80L1038.10 1024.40M1032.64 1014.95L1043.56 1021.25M1032.64 1021.25L1043.56 1014.95" stroke="#000" stroke-width="2.9" stroke-linecap="round"/>
<text x="988.48" y="1367.00" font-size="35.76" textLength="74.88" lengthAdjust="spacingAndGlyphs" >hFBs</text>
<text x="1085.74" y="1367.00" font-size="35.76" textLength="101.01" lengthAdjust="spacingAndGlyphs" >201B7</text>
<text x="1101.53" y="1414.60" font-size="35.76" textLength="69.22" lengthAdjust="spacingAndGlyphs" >cells</text>
<text transform="translate(851.90,1325.78) rotate(-90)" font-size="31.20" font-weight="bold" textLength="352.45" lengthAdjust="spacingAndGlyphs" >Relative Cell Viability [%]</text>
<line x1="165.40" y1="1596.40" x2="165.40" y2="1773.60" stroke="#3a3a3a" stroke-width="1.70" />
<line x1="155.40" y1="1773.30" x2="478.70" y2="1773.30" stroke="#222" stroke-width="1.50" />
<text x="123.15" y="1782.20" font-size="27.20" textLength="14.90" lengthAdjust="spacingAndGlyphs" >0</text>
<line x1="154.80" y1="1714.13" x2="165.40" y2="1714.13" stroke="#333" stroke-width="1.50" />
<text x="108.26" y="1723.34" font-size="27.20" textLength="29.79" lengthAdjust="spacingAndGlyphs" >50</text>
<line x1="154.80" y1="1655.27" x2="165.40" y2="1655.27" stroke="#333" stroke-width="1.50" />
<text x="93.36" y="1664.47" font-size="27.20" textLength="44.69" lengthAdjust="spacingAndGlyphs" >100</text>
<line x1="154.80" y1="1596.40" x2="165.40" y2="1596.40" stroke="#333" stroke-width="1.50" />
<text x="93.36" y="1605.61" font-size="27.20" textLength="44.69" lengthAdjust="spacingAndGlyphs" >150</text>
<line x1="165.40" y1="1773.00" x2="165.40" y2="1782.60" stroke="#3a3a3a" stroke-width="1.70" />
<line x1="304.84" y1="1773.00" x2="304.84" y2="1782.60" stroke="#3a3a3a" stroke-width="1.70" />
<line x1="444.28" y1="1773.00" x2="444.28" y2="1782.60" stroke="#3a3a3a" stroke-width="1.70" />
<line x1="547.40" y1="1596.40" x2="547.40" y2="1773.60" stroke="#3a3a3a" stroke-width="1.70" />
<line x1="537.40" y1="1773.30" x2="861.30" y2="1773.30" stroke="#222" stroke-width="1.50" />
<text x="505.95" y="1782.20" font-size="27.20" textLength="14.90" lengthAdjust="spacingAndGlyphs" >0</text>
<line x1="536.80" y1="1714.13" x2="547.40" y2="1714.13" stroke="#333" stroke-width="1.50" />
<text x="491.06" y="1723.34" font-size="27.20" textLength="29.79" lengthAdjust="spacingAndGlyphs" >50</text>
<line x1="536.80" y1="1655.27" x2="547.40" y2="1655.27" stroke="#333" stroke-width="1.50" />
<text x="476.16" y="1664.47" font-size="27.20" textLength="44.69" lengthAdjust="spacingAndGlyphs" >100</text>
<line x1="536.80" y1="1596.40" x2="547.40" y2="1596.40" stroke="#333" stroke-width="1.50" />
<text x="476.16" y="1605.61" font-size="27.20" textLength="44.69" lengthAdjust="spacingAndGlyphs" >150</text>
<line x1="547.40" y1="1773.00" x2="547.40" y2="1782.60" stroke="#3a3a3a" stroke-width="1.70" />
<line x1="686.84" y1="1773.00" x2="686.84" y2="1782.60" stroke="#3a3a3a" stroke-width="1.70" />
<line x1="826.28" y1="1773.00" x2="826.28" y2="1782.60" stroke="#3a3a3a" stroke-width="1.70" />
<line x1="930.20" y1="1596.40" x2="930.20" y2="1773.60" stroke="#3a3a3a" stroke-width="1.70" />
<line x1="920.20" y1="1773.30" x2="1243.40" y2="1773.30" stroke="#222" stroke-width="1.50" />
<text x="888.75" y="1782.20" font-size="27.20" textLength="14.90" lengthAdjust="spacingAndGlyphs" >0</text>
<line x1="919.60" y1="1714.13" x2="930.20" y2="1714.13" stroke="#333" stroke-width="1.50" />
<text x="873.86" y="1723.34" font-size="27.20" textLength="29.79" lengthAdjust="spacingAndGlyphs" >50</text>
<line x1="919.60" y1="1655.27" x2="930.20" y2="1655.27" stroke="#333" stroke-width="1.50" />
<text x="858.96" y="1664.47" font-size="27.20" textLength="44.69" lengthAdjust="spacingAndGlyphs" >100</text>
<line x1="919.60" y1="1596.40" x2="930.20" y2="1596.40" stroke="#333" stroke-width="1.50" />
<text x="858.96" y="1605.61" font-size="27.20" textLength="44.69" lengthAdjust="spacingAndGlyphs" >150</text>
<line x1="930.20" y1="1773.00" x2="930.20" y2="1782.60" stroke="#3a3a3a" stroke-width="1.70" />
<line x1="1069.64" y1="1773.00" x2="1069.64" y2="1782.60" stroke="#3a3a3a" stroke-width="1.70" />
<line x1="1209.08" y1="1773.00" x2="1209.08" y2="1782.60" stroke="#3a3a3a" stroke-width="1.70" />
<text x="165.44" y="1820.60" font-size="27.20" textLength="15.13" lengthAdjust="spacingAndGlyphs" >0</text>
<text x="282.52" y="1820.60" font-size="27.20" textLength="36.49" lengthAdjust="spacingAndGlyphs" >0.4</text>
<text x="421.61" y="1820.60" font-size="27.20" textLength="36.49" lengthAdjust="spacingAndGlyphs" >0.8</text>
<text x="547.94" y="1820.60" font-size="27.20" textLength="15.13" lengthAdjust="spacingAndGlyphs" >0</text>
<text x="664.82" y="1820.60" font-size="27.20" textLength="36.49" lengthAdjust="spacingAndGlyphs" >0.4</text>
<text x="804.61" y="1820.60" font-size="27.20" textLength="36.49" lengthAdjust="spacingAndGlyphs" >0.8</text>
<text x="930.44" y="1820.60" font-size="27.20" textLength="15.13" lengthAdjust="spacingAndGlyphs" >0</text>
<text x="1047.82" y="1820.60" font-size="27.20" textLength="36.49" lengthAdjust="spacingAndGlyphs" >0.4</text>
<text x="1187.31" y="1820.60" font-size="27.20" textLength="36.49" lengthAdjust="spacingAndGlyphs" >0.8</text>
<line x1="165.40" y1="1639.20" x2="170.70" y2="1639.20" stroke="#1a1a1a" stroke-width="1.30" />
<line x1="165.40" y1="1671.90" x2="170.70" y2="1671.90" stroke="#1a1a1a" stroke-width="1.30" />
<line x1="234.95" y1="1691.00" x2="234.95" y2="1724.10" stroke="#1a1a1a" stroke-width="1.50" />
<line x1="229.35" y1="1691.00" x2="240.55" y2="1691.00" stroke="#1a1a1a" stroke-width="1.50" />
<line x1="229.35" y1="1724.10" x2="240.55" y2="1724.10" stroke="#1a1a1a" stroke-width="1.50" />
<line x1="269.73" y1="1727.90" x2="269.73" y2="1750.00" stroke="#1a1a1a" stroke-width="1.50" />
<line x1="264.12" y1="1727.90" x2="275.33" y2="1727.90" stroke="#1a1a1a" stroke-width="1.50" />
<line x1="264.12" y1="1750.00" x2="275.33" y2="1750.00" stroke="#1a1a1a" stroke-width="1.50" />
<path d="M200.18 1652.60L209.98 1662.40L200.18 1672.20L190.38 1662.40Z" fill="#00A018" stroke="#00A018" stroke-width="2.60" stroke-linejoin="round"/>
<path d="M234.95 1666.40L244.75 1676.20L234.95 1686.00L225.15 1676.20Z" fill="#00A018" stroke="#00A018" stroke-width="2.60" stroke-linejoin="round"/>
<path d="M269.73 1726.20L279.53 1736.00L269.73 1745.80L259.93 1736.00Z" fill="#00A018" stroke="#00A018" stroke-width="2.60" stroke-linejoin="round"/>
<path d="M304.50 1727.10L314.30 1736.90L304.50 1746.70L294.70 1736.90Z" fill="#00A018" stroke="#00A018" stroke-width="2.60" stroke-linejoin="round"/>
<path d="M339.27 1758.20L349.07 1768.00L339.27 1777.80L329.47 1768.00Z" fill="#00A018" stroke="#00A018" stroke-width="2.60" stroke-linejoin="round"/>
<path d="M374.05 1760.90L383.85 1770.70L374.05 1780.50L364.25 1770.70Z" fill="#00A018" stroke="#00A018" stroke-width="2.60" stroke-linejoin="round"/>
<path d="M165.40 1646.35L174.35 1655.30L165.40 1664.25L156.45 1655.30Z" fill="white" stroke="#FF80FF" stroke-width="2.90" stroke-linejoin="miter"/>
<path d="M200.18 1632.45L209.12 1641.40L200.18 1650.35L191.23 1641.40Z" fill="white" stroke="#FF80FF" stroke-width="2.90" stroke-linejoin="miter"/>
<path d="M234.95 1698.65L243.90 1707.60L234.95 1716.55L226.00 1707.60Z" fill="white" stroke="#FF80FF" stroke-width="2.90" stroke-linejoin="miter"/>
<path d="M269.73 1729.85L278.68 1738.80L269.73 1747.75L260.78 1738.80Z" fill="white" stroke="#FF80FF" stroke-width="2.90" stroke-linejoin="miter"/>
<path d="M304.50 1753.55L313.45 1762.50L304.50 1771.45L295.55 1762.50Z" fill="white" stroke="#FF80FF" stroke-width="2.90" stroke-linejoin="miter"/>
<path d="M339.27 1763.65L348.22 1772.60L339.27 1781.55L330.32 1772.60Z" fill="white" stroke="#FF80FF" stroke-width="2.90" stroke-linejoin="miter"/>
<path d="M408.82 1761.05L417.77 1770.00L408.82 1778.95L399.88 1770.00Z" fill="white" stroke="#FF80FF" stroke-width="2.90" stroke-linejoin="miter"/>
<line x1="547.40" y1="1636.10" x2="552.70" y2="1636.10" stroke="#1a1a1a" stroke-width="1.30" />
<line x1="547.40" y1="1674.20" x2="552.70" y2="1674.20" stroke="#1a1a1a" stroke-width="1.30" />
<line x1="582.38" y1="1655.00" x2="582.38" y2="1670.00" stroke="#1a1a1a" stroke-width="1.50" />
<line x1="576.77" y1="1670.00" x2="587.98" y2="1670.00" stroke="#1a1a1a" stroke-width="1.50" />
<line x1="617.35" y1="1657.30" x2="617.35" y2="1697.70" stroke="#1a1a1a" stroke-width="1.50" />
<line x1="611.75" y1="1657.30" x2="622.95" y2="1657.30" stroke="#1a1a1a" stroke-width="1.50" />
<line x1="611.75" y1="1697.70" x2="622.95" y2="1697.70" stroke="#1a1a1a" stroke-width="1.50" />
<line x1="652.32" y1="1718.50" x2="652.32" y2="1734.70" stroke="#1a1a1a" stroke-width="1.50" />
<line x1="646.72" y1="1718.50" x2="657.92" y2="1718.50" stroke="#1a1a1a" stroke-width="1.50" />
<line x1="646.72" y1="1734.70" x2="657.92" y2="1734.70" stroke="#1a1a1a" stroke-width="1.50" />
<line x1="687.30" y1="1735.70" x2="687.30" y2="1750.00" stroke="#1a1a1a" stroke-width="1.50" />
<line x1="681.70" y1="1735.70" x2="692.90" y2="1735.70" stroke="#1a1a1a" stroke-width="1.50" />
<path d="M582.38 1641.50L592.17 1651.30L582.38 1661.10L572.58 1651.30Z" fill="#00A018" stroke="#00A018" stroke-width="2.60" stroke-linejoin="round"/>
<path d="M617.35 1673.90L627.15 1683.70L617.35 1693.50L607.55 1683.70Z" fill="#00A018" stroke="#00A018" stroke-width="2.60" stroke-linejoin="round"/>
<path d="M652.32 1753.10L662.12 1762.90L652.32 1772.70L642.52 1762.90Z" fill="#00A018" stroke="#00A018" stroke-width="2.60" stroke-linejoin="round"/>
<path d="M687.30 1757.60L697.10 1767.40L687.30 1777.20L677.50 1767.40Z" fill="#00A018" stroke="#00A018" stroke-width="2.60" stroke-linejoin="round"/>
<path d="M722.27 1762.20L732.07 1772.00L722.27 1781.80L712.48 1772.00Z" fill="#00A018" stroke="#00A018" stroke-width="2.60" stroke-linejoin="round"/>
<path d="M757.25 1762.90L767.05 1772.70L757.25 1782.50L747.45 1772.70Z" fill="#00A018" stroke="#00A018" stroke-width="2.60" stroke-linejoin="round"/>
<path d="M792.22 1762.20L802.02 1772.00L792.22 1781.80L782.42 1772.00Z" fill="#00A018" stroke="#00A018" stroke-width="2.60" stroke-linejoin="round"/>
<path d="M827.20 1763.60L837.00 1773.40L827.20 1783.20L817.40 1773.40Z" fill="#00A018" stroke="#00A018" stroke-width="2.60" stroke-linejoin="round"/>
<path d="M547.40 1646.55L556.35 1655.50L547.40 1664.45L538.45 1655.50Z" fill="white" stroke="#FF80FF" stroke-width="2.90" stroke-linejoin="miter"/>
<path d="M582.38 1653.95L591.33 1662.90L582.38 1671.85L573.42 1662.90Z" fill="white" stroke="#FF80FF" stroke-width="2.90" stroke-linejoin="miter"/>
<path d="M617.35 1668.75L626.30 1677.70L617.35 1686.65L608.40 1677.70Z" fill="white" stroke="#FF80FF" stroke-width="2.90" stroke-linejoin="miter"/>
<path d="M652.32 1718.05L661.27 1727.00L652.32 1735.95L643.37 1727.00Z" fill="white" stroke="#FF80FF" stroke-width="2.90" stroke-linejoin="miter"/>
<path d="M687.30 1739.05L696.25 1748.00L687.30 1756.95L678.35 1748.00Z" fill="white" stroke="#FF80FF" stroke-width="2.90" stroke-linejoin="miter"/>
<path d="M722.27 1751.45L731.23 1760.40L722.27 1769.35L713.32 1760.40Z" fill="white" stroke="#FF80FF" stroke-width="2.90" stroke-linejoin="miter"/>
<path d="M757.25 1751.75L766.20 1760.70L757.25 1769.65L748.30 1760.70Z" fill="white" stroke="#FF80FF" stroke-width="2.90" stroke-linejoin="miter"/>
<path d="M792.22 1747.25L801.17 1756.20L792.22 1765.15L783.27 1756.20Z" fill="white" stroke="#FF80FF" stroke-width="2.90" stroke-linejoin="miter"/>
<path d="M827.20 1759.55L836.15 1768.50L827.20 1777.45L818.25 1768.50Z" fill="white" stroke="#FF80FF" stroke-width="2.90" stroke-linejoin="miter"/>
<line x1="930.20" y1="1636.80" x2="935.50" y2="1636.80" stroke="#1a1a1a" stroke-width="1.30" />
<line x1="930.20" y1="1674.50" x2="935.50" y2="1674.50" stroke="#1a1a1a" stroke-width="1.30" />
<line x1="965.05" y1="1618.70" x2="965.05" y2="1640.00" stroke="#1a1a1a" stroke-width="1.50" />
<line x1="959.45" y1="1618.70" x2="970.65" y2="1618.70" stroke="#1a1a1a" stroke-width="1.50" />
<line x1="999.90" y1="1620.40" x2="999.90" y2="1677.80" stroke="#1a1a1a" stroke-width="1.50" />
<line x1="994.30" y1="1620.40" x2="1005.50" y2="1620.40" stroke="#1a1a1a" stroke-width="1.50" />
<line x1="994.30" y1="1677.80" x2="1005.50" y2="1677.80" stroke="#1a1a1a" stroke-width="1.50" />
<line x1="1034.75" y1="1639.00" x2="1034.75" y2="1698.10" stroke="#1a1a1a" stroke-width="1.50" />
<line x1="1029.15" y1="1639.00" x2="1040.35" y2="1639.00" stroke="#1a1a1a" stroke-width="1.50" />
<line x1="1029.15" y1="1680.70" x2="1040.35" y2="1680.70" stroke="#1a1a1a" stroke-width="1.50" />
<line x1="1029.15" y1="1698.10" x2="1040.35" y2="1698.10" stroke="#1a1a1a" stroke-width="1.50" />
<line x1="1069.60" y1="1679.10" x2="1069.60" y2="1710.60" stroke="#1a1a1a" stroke-width="1.50" />
<line x1="1064.00" y1="1679.10" x2="1075.20" y2="1679.10" stroke="#1a1a1a" stroke-width="1.50" />
<line x1="1064.00" y1="1710.60" x2="1075.20" y2="1710.60" stroke="#1a1a1a" stroke-width="1.50" />
<line x1="1069.60" y1="1736.80" x2="1069.60" y2="1768.00" stroke="#1a1a1a" stroke-width="1.50" />
<line x1="1064.00" y1="1736.80" x2="1075.20" y2="1736.80" stroke="#1a1a1a" stroke-width="1.50" />
<line x1="1064.00" y1="1768.00" x2="1075.20" y2="1768.00" stroke="#1a1a1a" stroke-width="1.50" />
<path d="M965.05 1644.70L974.85 1654.50L965.05 1664.30L955.25 1654.50Z" fill="#00A018" stroke="#00A018" stroke-width="2.60" stroke-linejoin="round"/>
<path d="M999.90 1650.60L1009.70 1660.40L999.90 1670.20L990.10 1660.40Z" fill="#00A018" stroke="#00A018" stroke-width="2.60" stroke-linejoin="round"/>
<path d="M1034.75 1662.10L1044.55 1671.90L1034.75 1681.70L1024.95 1671.90Z" fill="#00A018" stroke="#00A018" stroke-width="2.60" stroke-linejoin="round"/>
<path d="M1069.60 1742.40L1079.40 1752.20L1069.60 1762.00L1059.80 1752.20Z" fill="#00A018" stroke="#00A018" stroke-width="2.60" stroke-linejoin="round"/>
<path d="M1104.45 1758.80L1114.25 1768.60L1104.45 1778.40L1094.65 1768.60Z" fill="#00A018" stroke="#00A018" stroke-width="2.60" stroke-linejoin="round"/>
<path d="M1139.30 1745.70L1149.10 1755.50L1139.30 1765.30L1129.50 1755.50Z" fill="#00A018" stroke="#00A018" stroke-width="2.60" stroke-linejoin="round"/>
<path d="M1174.15 1742.40L1183.95 1752.20L1174.15 1762.00L1164.35 1752.20Z" fill="#00A018" stroke="#00A018" stroke-width="2.60" stroke-linejoin="round"/>
<path d="M1209.00 1724.40L1218.80 1734.20L1209.00 1744.00L1199.20 1734.20Z" fill="#00A018" stroke="#00A018" stroke-width="2.60" stroke-linejoin="round"/>
<path d="M930.20 1646.55L939.15 1655.50L930.20 1664.45L921.25 1655.50Z" fill="white" stroke="#FF80FF" stroke-width="2.90" stroke-linejoin="miter"/>
<path d="M965.05 1629.15L974.00 1638.10L965.05 1647.05L956.10 1638.10Z" fill="white" stroke="#FF80FF" stroke-width="2.90" stroke-linejoin="miter"/>
<path d="M999.90 1632.75L1008.85 1641.70L999.90 1650.65L990.95 1641.70Z" fill="white" stroke="#FF80FF" stroke-width="2.90" stroke-linejoin="miter"/>
<path d="M1034.75 1659.65L1043.70 1668.60L1034.75 1677.55L1025.80 1668.60Z" fill="white" stroke="#FF80FF" stroke-width="2.90" stroke-linejoin="miter"/>
<path d="M1069.60 1685.85L1078.55 1694.80L1069.60 1703.75L1060.65 1694.80Z" fill="white" stroke="#FF80FF" stroke-width="2.90" stroke-linejoin="miter"/>
<path d="M1104.45 1707.85L1113.40 1716.80L1104.45 1725.75L1095.50 1716.80Z" fill="white" stroke="#FF80FF" stroke-width="2.90" stroke-linejoin="miter"/>
<path d="M1139.30 1736.05L1148.25 1745.00L1139.30 1753.95L1130.35 1745.00Z" fill="white" stroke="#FF80FF" stroke-width="2.90" stroke-linejoin="miter"/>
<path d="M1174.15 1741.65L1183.10 1750.60L1174.15 1759.55L1165.20 1750.60Z" fill="white" stroke="#FF80FF" stroke-width="2.90" stroke-linejoin="miter"/>
<path d="M1209.00 1751.45L1217.95 1760.40L1209.00 1769.35L1200.05 1760.40Z" fill="white" stroke="#FF80FF" stroke-width="2.90" stroke-linejoin="miter"/>
<rect x="377.88" y="1569.88" width="91.15" height="52.85" fill="white" stroke="#000" stroke-width="1.75" />
<text x="395.97" y="1605.60" font-size="26.45" textLength="54.88" lengthAdjust="spacingAndGlyphs" >NaCl</text>
<rect x="779.48" y="1570.08" width="72.05" height="52.65" fill="white" stroke="#000" stroke-width="1.75" />
<text x="798.11" y="1605.60" font-size="26.45" textLength="35.26" lengthAdjust="spacingAndGlyphs" >KCl</text>
<rect x="1081.38" y="1570.17" width="152.75" height="52.35" fill="white" stroke="#000" stroke-width="1.75" />
<text x="1099.97" y="1605.60" font-size="26.45" textLength="116.78" lengthAdjust="spacingAndGlyphs" >D-glucose</text>
<rect x="927.90" y="1504.00" width="306.30" height="51.40" fill="white" stroke="#000" stroke-width="2.00" />
<path d="M958.7 1516.2L971.7 1529.2L958.7 1542.2L945.7 1529.2Z" fill="white" stroke="#FF80FF" stroke-width="1.5"/>
<path d="M1136.8 1515.7L1150.3 1529.2L1136.8 1542.7L1123.3 1529.2Z" fill="#00A018"/>
<text x="980.40" y="1538.40" font-size="26.60" textLength="133.53" lengthAdjust="spacingAndGlyphs" >201B7 cells</text>
<text x="1157.73" y="1538.40" font-size="26.60" textLength="56.24" lengthAdjust="spacingAndGlyphs" >hFBs</text>
<rect x="102.70" y="1528.40" width="3.6" height="19.80" rx="1.2" fill="#000"/>
<circle cx="104.50" cy="1522.00" r="2.4" fill="#000"/>
<rect x="485.40" y="1527.40" width="3.6" height="20.20" rx="1.2" fill="#000"/>
<circle cx="487.20" cy="1521.30" r="2.4" fill="#000"/>
<rect x="495.40" y="1527.40" width="3.6" height="20.20" rx="1.2" fill="#000"/>
<circle cx="497.20" cy="1521.30" r="2.4" fill="#000"/>
<rect x="868.10" y="1524.00" width="3.6" height="20.40" rx="1.2" fill="#000"/>
<circle cx="869.90" cy="1518.00" r="2.4" fill="#000"/>
<rect x="878.00" y="1524.00" width="3.6" height="20.40" rx="1.2" fill="#000"/>
<circle cx="879.80" cy="1518.00" r="2.4" fill="#000"/>
<rect x="888.00" y="1524.00" width="3.6" height="20.40" rx="1.2" fill="#000"/>
<circle cx="889.80" cy="1518.00" r="2.4" fill="#000"/>
<text x="418.65" y="1871.00" font-size="31.10" font-weight="bold" textLength="505.63" lengthAdjust="spacingAndGlyphs" >Added solute concentration [mol/L]</text>
<text transform="translate(71.90,1849.69) rotate(-90)" font-size="31.20" font-weight="bold" textLength="345.36" lengthAdjust="spacingAndGlyphs" >Relative cell viability [%]</text>
</svg>
</body></html>
